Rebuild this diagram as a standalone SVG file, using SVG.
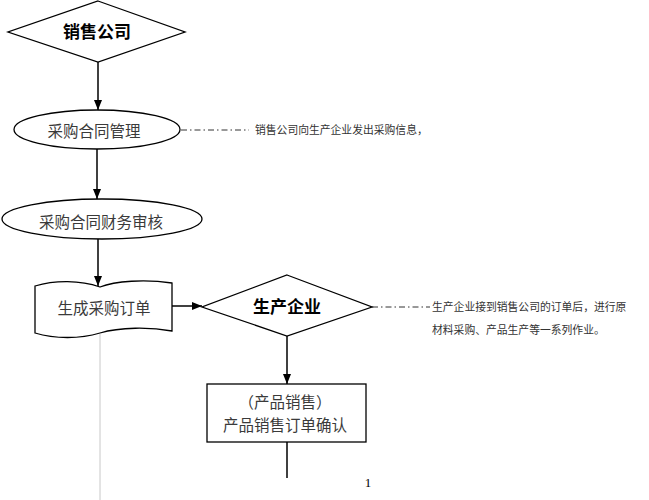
<svg xmlns="http://www.w3.org/2000/svg" width="649" height="500" viewBox="0 0 649 500">
<defs>
<marker id="arr" markerWidth="10" markerHeight="8" refX="10" refY="4" orient="auto" markerUnits="userSpaceOnUse">
<path d="M0,0 L10,4 L0,8 Z" fill="#000"/>
</marker>
<style>
.shape{fill:#fff;stroke:#000;stroke-width:1.3}
.conn{fill:none;stroke:#000;stroke-width:1.5}
.dash{fill:none;stroke:#333;stroke-width:1;stroke-dasharray:6 3 1.5 3}
.bold{font-family:"Noto Sans CJK SC","Liberation Sans",sans-serif;font-weight:bold;font-size:17px;fill:#000;text-anchor:middle}
.lbl{font-family:"Noto Sans CJK SC","Liberation Serif",serif;font-size:15.5px;fill:#3a3a3a;text-anchor:middle}
.note{font-family:"Noto Sans CJK SC","Liberation Serif",serif;font-size:10.8px;fill:#333}
</style>
</defs>
<rect width="649" height="500" fill="#fff"/>
<g id="connectors">
<line class="conn" x1="98" y1="62" x2="98" y2="110" marker-end="url(#arr)"/>
<line class="conn" x1="97" y1="149" x2="97" y2="199" marker-end="url(#arr)"/>
<line class="conn" x1="98" y1="239" x2="98" y2="286" marker-end="url(#arr)"/>
<line class="conn" x1="172" y1="306" x2="202" y2="306" marker-end="url(#arr)"/>
<line class="conn" x1="287" y1="336" x2="287" y2="384" marker-end="url(#arr)"/>
<line class="conn" x1="287" y1="442" x2="287" y2="478"/>
<line x1="100" y1="334" x2="100" y2="500" stroke="#c8c8c8" stroke-width="1"/>
<line class="dash" x1="181" y1="130" x2="249" y2="130"/>
<line class="dash" x1="372" y1="307" x2="430" y2="307"/>
</g>
<g id="n_sales">
<polygon class="shape" points="98,1 185,32 98,62 8,32"/>
<text class="bold" x="97" y="38">销售公司</text>
</g>
<g id="n_contract">
<ellipse class="shape" cx="97" cy="129.5" rx="83" ry="19.5"/>
<text class="lbl" x="94" y="137">采购合同管理</text>
</g>
<g id="n_finance">
<ellipse class="shape" cx="102" cy="219" rx="100" ry="20"/>
<text class="lbl" x="101" y="228">采购合同财务审核</text>
</g>
<g id="n_order">
<path class="shape" d="M35,286 C55,280 80,280 100,287 C115,281 145,279 172,283 L172,331 C150,327 120,327 100,333 C80,339 55,339 35,333 Z"/>
<text class="lbl" x="104" y="314">生成采购订单</text>
</g>
<g id="n_producer">
<polygon class="shape" points="287,275 372,307 287,336 202,307"/>
<text class="bold" x="287" y="313">生产企业</text>
</g>
<g id="n_confirm">
<rect class="shape" x="207" y="384" width="159" height="58"/>
<text class="lbl" x="285" y="408">（产品销售）</text>
<text class="lbl" x="285" y="431">产品销售订单确认</text>
</g>
<g id="notes">
<text class="note" x="255" y="134">销售公司向生产企业发出采购信息，</text>
<text class="note" x="432" y="311">生产企业接到销售公司的订单后，进行原</text>
<text class="note" x="432" y="334">材料采购、产品生产等一系列作业。</text>
<text x="368" y="487" font-family="Liberation Serif,serif" font-size="13" fill="#000" text-anchor="middle">1</text>
</g>
</svg>
